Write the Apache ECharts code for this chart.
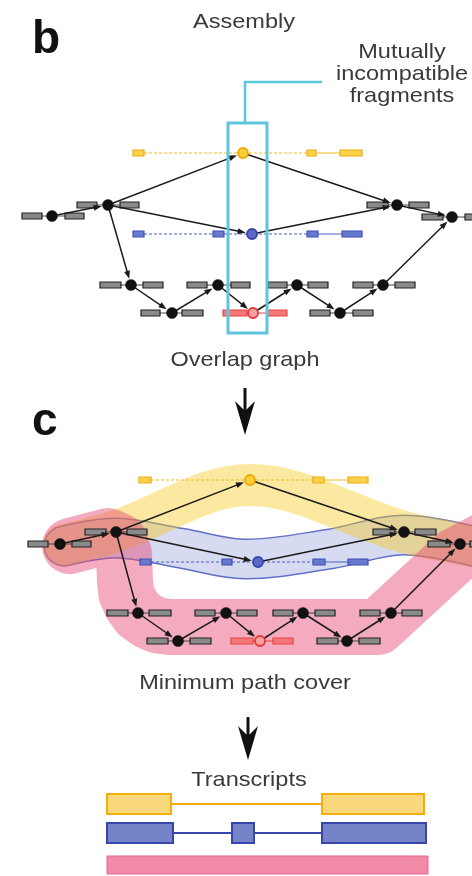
<!DOCTYPE html>
<html>
<head>
<meta charset="utf-8">
<script src="https://cdn.jsdelivr.net/npm/echarts@6/dist/echarts.min.js"></script>
<style>
  html, body { margin: 0; padding: 0; background: #fff; }
  #chart { width: 472px; height: 876px; }
</style>
</head>
<body>
<div id="chart"></div>
<script>
// ---- panel b : overlap graph ----
// nodes: [x, y, kind]   k = plain, y = yellow, b = blue, r = red
const nodesB = [
  [52, 216, 'k'], [108, 205, 'k'], [243, 153, 'y'], [252, 234, 'b'], [397, 205, 'k'], [452, 217, 'k'],
  [131, 285, 'k'], [218, 285, 'k'], [297, 285, 'k'], [383, 285, 'k'],
  [172, 313, 'k'], [253, 313, 'r'], [340, 313, 'k']
];
// edges (same topology in both panels), node index pairs
const edges = [
  [0, 1], [1, 2], [1, 3], [1, 6], [2, 4], [3, 4], [4, 5],
  [6, 10], [10, 7], [7, 11], [11, 8], [8, 12], [12, 9], [9, 5]
];
// fragments: [x0, x1, y, kind]
const fragsB = [
  [22, 42, 216, 'k'], [65, 84, 216, 'k'],
  [77, 97, 205, 'k'], [120, 139, 205, 'k'],
  [367, 388, 205, 'k'], [409, 429, 205, 'k'],
  [422, 443, 217, 'k'], [465, 486, 217, 'k'],
  [100, 121, 285, 'k'], [143, 163, 285, 'k'],
  [187, 207, 285, 'k'], [231, 250, 285, 'k'],
  [268, 287, 285, 'k'], [308, 328, 285, 'k'],
  [353, 373, 285, 'k'], [395, 415, 285, 'k'],
  [141, 160, 313, 'k'], [182, 203, 313, 'k'],
  [310, 330, 313, 'k'], [353, 373, 313, 'k'],
  [223, 247, 313, 'r'], [267, 287, 313, 'r'],
  [133, 144, 153, 'y'], [307, 316, 153, 'y'], [340, 362, 153, 'y'],
  [133, 144, 234, 'b'], [213, 224, 234, 'b'], [307, 318, 234, 'b'], [342, 362, 234, 'b']
];
// joins: [x0, x1, y, kind, dashed]
const linksB = [
  [42, 65, 216, 'k', 0], [97, 120, 205, 'k', 0], [388, 409, 205, 'k', 0], [443, 465, 217, 'k', 0],
  [121, 143, 285, 'k', 0], [207, 231, 285, 'k', 0], [287, 308, 285, 'k', 0], [373, 395, 285, 'k', 0],
  [160, 182, 313, 'k', 0], [330, 353, 313, 'k', 0], [247, 267, 313, 'r', 0],
  [144, 307, 153, 'y', 1], [316, 340, 153, 'y', 0],
  [144, 213, 234, 'b', 1], [224, 307, 234, 'b', 1], [318, 342, 234, 'b', 0]
];
const boxB = [[228, 123], [267, 333]];
const callout = [[245, 123], [245, 82], [322, 82]];

// ---- panel c : minimum path cover ----
const nodesC = [
  [60, 544, 'k'], [116, 532, 'k'], [250, 480, 'y'], [258, 562, 'b'], [404, 532, 'k'], [460, 544, 'k'],
  [138, 613, 'k'], [226, 613, 'k'], [303, 613, 'k'], [391, 613, 'k'],
  [178, 641, 'k'], [260, 641, 'r'], [347, 641, 'k']
];
const fragsC = [
  [28, 48, 544, 'k'], [72, 91, 544, 'k'],
  [85, 106, 532, 'k'], [127, 147, 532, 'k'],
  [373, 395, 532, 'k'], [415, 436, 532, 'k'],
  [428, 450, 544, 'k'], [470, 492, 544, 'k'],
  [107, 128, 613, 'k'], [149, 171, 613, 'k'],
  [195, 215, 613, 'k'], [237, 257, 613, 'k'],
  [273, 293, 613, 'k'], [315, 335, 613, 'k'],
  [360, 380, 613, 'k'], [402, 422, 613, 'k'],
  [147, 168, 641, 'k'], [190, 211, 641, 'k'],
  [317, 338, 641, 'k'], [359, 380, 641, 'k'],
  [231, 253, 641, 'r'], [273, 293, 641, 'r'],
  [139, 151, 480, 'y'], [313, 324, 480, 'y'], [348, 368, 480, 'y'],
  [140, 151, 562, 'b'], [222, 232, 562, 'b'], [313, 325, 562, 'b'], [348, 368, 562, 'b']
];
const linksC = [
  [48, 72, 544, 'k', 0], [106, 127, 532, 'k', 0], [395, 415, 532, 'k', 0], [450, 470, 544, 'k', 0],
  [128, 149, 613, 'k', 0], [215, 237, 613, 'k', 0], [293, 315, 613, 'k', 0], [380, 402, 613, 'k', 0],
  [168, 190, 641, 'k', 0], [338, 359, 641, 'k', 0], [253, 273, 641, 'r', 0],
  [151, 313, 480, 'y', 1], [324, 348, 480, 'y', 0],
  [151, 222, 562, 'b', 1], [232, 313, 562, 'b', 1], [325, 348, 562, 'b', 0]
];
// path-cover bands (centre lines)
const bandBlue = [[64, 546], [116, 538], [180, 548], [245, 559], [330, 549], [404, 535], [485, 549]];
const bandYellow = [[64, 545], [116, 531], [250, 485], [404, 532], [485, 548]];
const bandPink = [
  [70, 546], [108, 536], [119, 541], [124, 554], [125, 582], [126.5, 594], [131, 604], [138, 614],
  [147.5, 621], [158, 625.5], [170, 627], [378, 627], [455, 556], [485, 540]
];

// ---- transcripts ----
const exonsYellow = [[107, 171], [322, 424]];
const exonsBlue = [[107, 173], [232, 254], [322, 426]];
const exonsPink = [[107, 428]];
const transcriptY = [804, 833, 865];

// flow arrows: [x, yStart, yTip]
const flowArrows = [[245, 388, 435], [248, 717, 760]];

const COL = {
  k: { node: '#111', ring: '#111', frag: '#8a8a8a', edge: '#222', link: '#444' },
  y: { node: '#f9cf3a', ring: '#eea800', frag: '#f9d24a', edge: '#efac12', link: '#f3b820' },
  b: { node: '#5b6ac6', ring: '#3645ae', frag: '#6878cc', edge: '#3f4fb6', link: '#4d5dc0' },
  r: { node: '#f7a0a0', ring: '#e63838', frag: '#f47878', edge: '#e84444', link: '#e84444' }
};
const FONT = '"Liberation Sans", Arial, sans-serif';

function layer(n, render, z) {
  return {
    type: 'custom', coordinateSystem: 'cartesian2d',
    data: Array.from({ length: n }, (_, i) => [i, 0]),
    renderItem: render, clip: false, silent: true, z: z, animation: false
  };
}

function bandLayer(pts, styles, smooth, z) {
  return layer(1, function (params, api) {
    const p = pts.map(v => api.coord(v));
    return {
      type: 'group',
      children: styles.map(s => ({
        type: 'polyline',
        shape: { points: p, smooth: smooth },
        style: { stroke: s[0], lineWidth: s[1], fill: null, lineCap: 'round', lineJoin: 'round' }
      }))
    };
  }, z);
}

function linkLayer(links) {
  return layer(links.length, function (params, api) {
    const l = links[params.dataIndex];
    const a = api.coord([l[0], l[2]]), b = api.coord([l[1], l[2]]);
    return {
      type: 'line',
      shape: { x1: a[0], y1: a[1], x2: b[0], y2: b[1] },
      style: { stroke: COL[l[3]].link, lineWidth: 1, lineDash: l[4] ? [3, 2] : null }
    };
  }, 3);
}

function fragLayer(frags) {
  return layer(frags.length, function (params, api) {
    const f = frags[params.dataIndex];
    const a = api.coord([f[0], f[2]]), b = api.coord([f[1], f[2]]);
    const c = COL[f[3]];
    return {
      type: 'rect',
      shape: { x: a[0], y: a[1] - 3, width: b[0] - a[0], height: 6 },
      style: { fill: c.frag, stroke: c.edge, lineWidth: 1.2 }
    };
  }, 4);
}

function edgeLayer(nodes) {
  return layer(edges.length, function (params, api) {
    const e = edges[params.dataIndex];
    const p = api.coord(nodes[e[0]].slice(0, 2));
    const q = api.coord(nodes[e[1]].slice(0, 2));
    const dx = q[0] - p[0], dy = q[1] - p[1], len = Math.hypot(dx, dy);
    const ux = dx / len, uy = dy / len;
    const tip = [q[0] - ux * 6.5, q[1] - uy * 6.5];
    const base = [tip[0] - ux * 8, tip[1] - uy * 8];
    return {
      type: 'group',
      children: [
        { type: 'line', shape: { x1: p[0], y1: p[1], x2: base[0] + ux, y2: base[1] + uy },
          style: { stroke: '#1b1b1b', lineWidth: 1.5 } },
        { type: 'polygon',
          shape: { points: [tip, [base[0] - uy * 3, base[1] + ux * 3], [base[0] + uy * 3, base[1] - ux * 3]] },
          style: { fill: '#1b1b1b' } }
      ]
    };
  }, 5);
}

function nodeLayer(nodes) {
  return layer(nodes.length, function (params, api) {
    const n = nodes[params.dataIndex];
    const p = api.coord([n[0], n[1]]);
    const c = COL[n[2]];
    return {
      type: 'circle',
      shape: { cx: p[0], cy: p[1], r: n[2] === 'k' ? 5.5 : 5 },
      style: { fill: c.node, stroke: c.ring, lineWidth: n[2] === 'k' ? 0.5 : 1.8 }
    };
  }, 6);
}

function exonLayer(exons, row, fill, stroke, h, lw) {
  return layer(1, function (params, api) {
    const y = transcriptY[row];
    const kids = [];
    for (let i = 0; i < exons.length - 1; i++) {
      const a = api.coord([exons[i][1], y]), b = api.coord([exons[i + 1][0], y]);
      kids.push({ type: 'line', shape: { x1: a[0], y1: a[1], x2: b[0], y2: b[1] },
        style: { stroke: stroke, lineWidth: 2 } });
    }
    exons.forEach(ex => {
      const a = api.coord([ex[0], y]), b = api.coord([ex[1], y]);
      kids.push({ type: 'rect', shape: { x: a[0], y: a[1] - h / 2, width: b[0] - a[0], height: h },
        style: { fill: fill, stroke: stroke, lineWidth: lw } });
    });
    return { type: 'group', children: kids };
  }, 4);
}

const calloutLayer = layer(1, function (params, api) {
  const a = api.coord(boxB[0]), b = api.coord(boxB[1]);
  return {
    type: 'group',
    children: [
      { type: 'rect', shape: { x: a[0], y: a[1], width: b[0] - a[0], height: b[1] - a[1] },
        style: { fill: null, stroke: '#5cc6dc', lineWidth: 3 } },
      { type: 'polyline', shape: { points: callout.map(v => api.coord(v)) },
        style: { fill: null, stroke: '#5cc6dc', lineWidth: 2.5 } }
    ]
  };
}, 7);

const flowLayer = layer(flowArrows.length, function (params, api) {
  const f = flowArrows[params.dataIndex];
  const top = api.coord([f[0], f[1]]), tip = api.coord([f[0], f[2]]);
  const x = top[0];
  return {
    type: 'group',
    children: [
      { type: 'line', shape: { x1: x, y1: top[1], x2: x, y2: tip[1] - 12 }, style: { stroke: '#111', lineWidth: 3 } },
      { type: 'polygon',
        shape: { points: [[x, tip[1]], [x - 10, tip[1] - 34], [x, tip[1] - 24], [x + 10, tip[1] - 34]] },
        style: { fill: '#111' } }
    ]
  };
}, 5);

function label(text, x, y, size, weight, align, sx) {
  return {
    type: 'text', x: x, y: y, scaleX: sx || 1,
    style: { text: text, font: weight + ' ' + size + 'px ' + FONT, fill: weight === 'bold' ? '#111' : '#3a3a3a',
      textAlign: align, textVerticalAlign: 'middle' }
  };
}

const chart = echarts.init(document.getElementById('chart'));
chart.setOption({
  animation: false,
  grid: { left: 0, right: 0, top: 0, bottom: 0 },
  xAxis: { type: 'value', min: 0, max: 472, show: false },
  yAxis: { type: 'value', min: 0, max: 876, inverse: true, show: false },
  graphic: [
    label('b', 32, 40, 46, 'bold', 'left'),
    label('c', 32, 422, 46, 'bold', 'left'),
    label('Assembly', 244, 22, 21, 'normal', 'center', 1.12),
    label('Mutually', 402, 52, 21, 'normal', 'center', 1.12),
    label('incompatible', 402, 74, 21, 'normal', 'center', 1.12),
    label('fragments', 402, 96, 21, 'normal', 'center', 1.12),
    label('Overlap graph', 245, 360, 21, 'normal', 'center', 1.12),
    label('Minimum path cover', 245, 683, 21, 'normal', 'center', 1.12),
    label('Transcripts', 249, 780, 21, 'normal', 'center', 1.12)
  ],
  series: [
    bandLayer(bandBlue, [['#6070c6', 41], ['#d6dbf2', 38]], 0.35, 1),
    bandLayer(bandYellow, [['rgba(246,200,30,0.42)', 42]], 0.35, 2),
    bandLayer(bandPink, [['rgba(232,70,115,0.46)', 56]], 0, 2),
    linkLayer(linksB), linkLayer(linksC),
    fragLayer(fragsB), fragLayer(fragsC),
    edgeLayer(nodesB), edgeLayer(nodesC),
    nodeLayer(nodesB), nodeLayer(nodesC),
    calloutLayer, flowLayer,
    exonLayer(exonsYellow, 0, '#f9d77c', '#f1ae0c', 20, 2),
    exonLayer(exonsBlue, 1, '#7584c8', '#3646aa', 20, 2),
    exonLayer(exonsPink, 2, '#f18aa8', '#ea6690', 18, 1)
  ]
});
</script>
</body>
</html>
